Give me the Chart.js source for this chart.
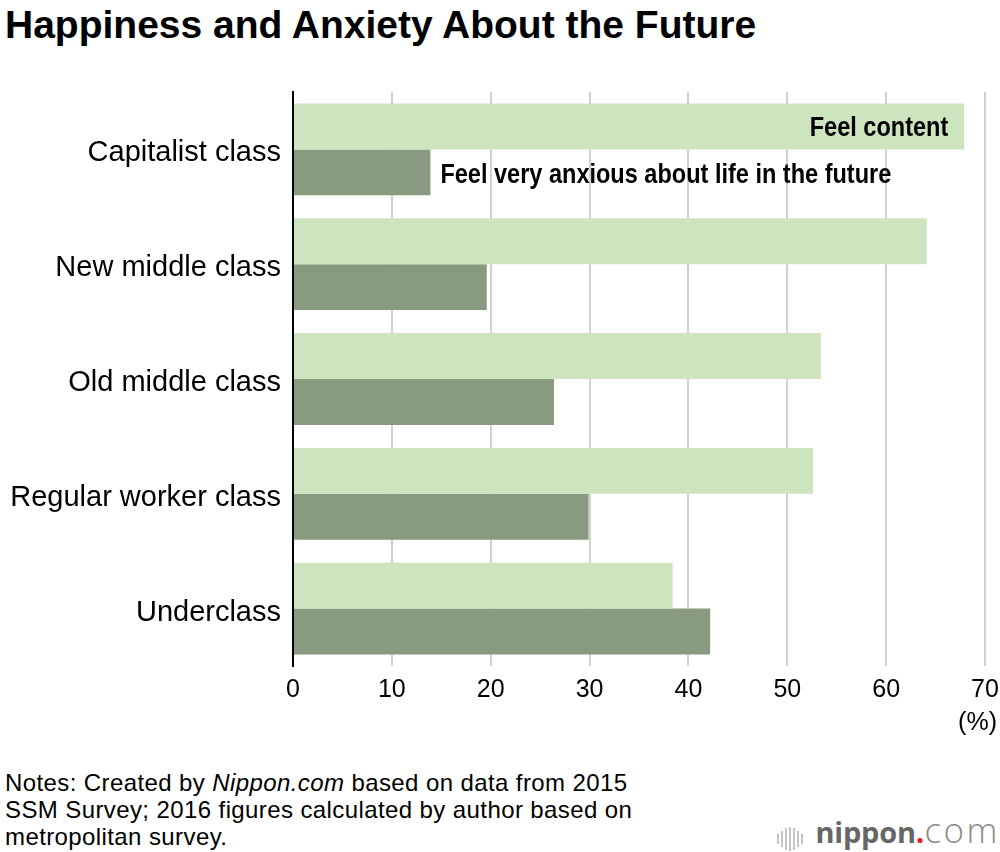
<!DOCTYPE html>
<html>
<head>
<meta charset="utf-8">
<script src="https://cdn.jsdelivr.net/npm/chart.js@4"></script>
<style>
  html, body { margin: 0; padding: 0; background: #fff; }
  body { width: 1000px; height: 852px; position: relative; overflow: hidden; font-family: 'Liberation Sans', Arial, sans-serif; color: #000; }
  #title { position: absolute; left: 5px; top: 3px; font-size: 39px; font-weight: bold; white-space: nowrap; }
  #wrap { position: absolute; left: 0; top: 0; width: 1000px; height: 720px; }
  #unit { position: absolute; right: 3px; top: 707px; font-size: 25px; }
  #notes { position: absolute; left: 5px; top: 769px; font-size: 24px; line-height: 27px; letter-spacing: 0.4px; white-space: nowrap; }
  #logo { position: absolute; right: 0px; top: 806px; height: 46px; white-space: nowrap; font-family: 'Open Sans', sans-serif; }
  #logo .bars { display: inline-block; vertical-align: 0px; margin-right: 10px; }
  #logo .bars i { display: inline-block; width: 2px; background: #c4c4c4; margin-right: 2px; vertical-align: middle; }
  #logo .name { font-size: 29px; font-weight: 700; color: #666; letter-spacing: -0.2px; }
  #logo .dot { font-size: 30px; font-weight: 700; color: #e8202a; }
  #logo .com { font-size: 35px; font-weight: 300; color: #8a8a8a; letter-spacing: 2.5px; }
</style>
</head>
<body>
<div id="title">Happiness and Anxiety About the Future</div>
<div id="wrap"><canvas id="chart"></canvas></div>
<div id="unit">(%)</div>
<div id="notes">Notes: Created by <i>Nippon.com</i> based on data from 2015<br>SSM Survey; 2016 figures calculated by author based on<br>metropolitan survey.</div>
<div id="logo"><span class="bars"><i style="height:10px"></i><i style="height:16px"></i><i style="height:22px"></i><i style="height:24px"></i><i style="height:22px"></i><i style="height:16px"></i><i style="height:10px"></i></span><span class="name">nippon</span><span class="dot">.</span><span class="com">com</span></div>
<script>
// ---- data -----------------------------------------------------------------
const classes = ['Capitalist class', 'New middle class', 'Old middle class', 'Regular worker class', 'Underclass'];
const feelContent = [67.9, 64.1, 53.4, 52.6, 38.4];
const feelAnxious = [13.9, 19.6, 26.4, 29.9, 42.2];
const xTicks = [0, 10, 20, 30, 40, 50, 60, 70];
const seriesNames = ['Feel content', 'Feel very anxious about life in the future'];

const LIGHT = '#cde5bf';
const DARK = '#889a7f';

// Condensed bold text: the narrow face is not installed, so squeeze it.
function drawNarrow(ctx, text, x, y, align) {
  ctx.save();
  ctx.translate(x, y);
  ctx.scale(0.84, 1);
  ctx.textAlign = align;
  ctx.fillText(text, 0, 0);
  ctx.restore();
}

// Labels the two series at the first category, next to the bar ends.
const seriesLabels = {
  id: 'seriesLabels',
  afterDatasetsDraw(chart) {
    const ctx = chart.ctx;
    const top = chart.getDatasetMeta(0).data[0];
    const low = chart.getDatasetMeta(1).data[0];
    ctx.save();
    ctx.fillStyle = '#000';
    ctx.font = "bold 28px 'Liberation Sans', Arial, sans-serif";
    ctx.textBaseline = 'middle';
    drawNarrow(ctx, seriesNames[0], top.x - 16, top.y + 2, 'right');
    drawNarrow(ctx, seriesNames[1], low.x + 10, low.y + 3, 'left');
    ctx.restore();
  }
};

new Chart(document.getElementById('chart'), {
  type: 'bar',
  data: {
    labels: classes,
    datasets: [
      { label: seriesNames[0], data: feelContent, backgroundColor: LIGHT },
      { label: seriesNames[1], data: feelAnxious, backgroundColor: DARK }
    ]
  },
  options: {
    indexAxis: 'y',
    responsive: true,
    maintainAspectRatio: false,
    animation: false,
    categoryPercentage: 0.8,
    barPercentage: 1.0,
    layout: { padding: { top: 92, right: 15, left: 0, bottom: 0 } },
    plugins: { legend: { display: false }, tooltip: { enabled: false } },
    scales: {
      x: {
        min: 0,
        max: 70,
        afterBuildTicks: (scale) => { scale.ticks = xTicks.map((v) => ({ value: v })); },
        grid: { color: '#d0d0d0', lineWidth: 2, drawTicks: false },
        border: { display: false },
        ticks: {
          color: '#000',
          padding: 9,
          font: { family: "'Liberation Sans', Arial, sans-serif", size: 25 }
        },
        afterFit: (scale) => {
          scale.height = 54;
          scale.paddingLeft = 0;
          scale.paddingRight = 0;
        }
      },
      y: {
        grid: { display: false, drawTicks: false },
        border: { display: true, color: '#000', width: 2 },
        ticks: {
          color: '#000',
          padding: 12,
          labelOffset: 4,
          font: { family: "'Liberation Sans', Arial, sans-serif", size: 29 }
        },
        afterFit: (scale) => { scale.width = 293; }
      }
    }
  },
  plugins: [seriesLabels]
});
</script>
</body>
</html>
